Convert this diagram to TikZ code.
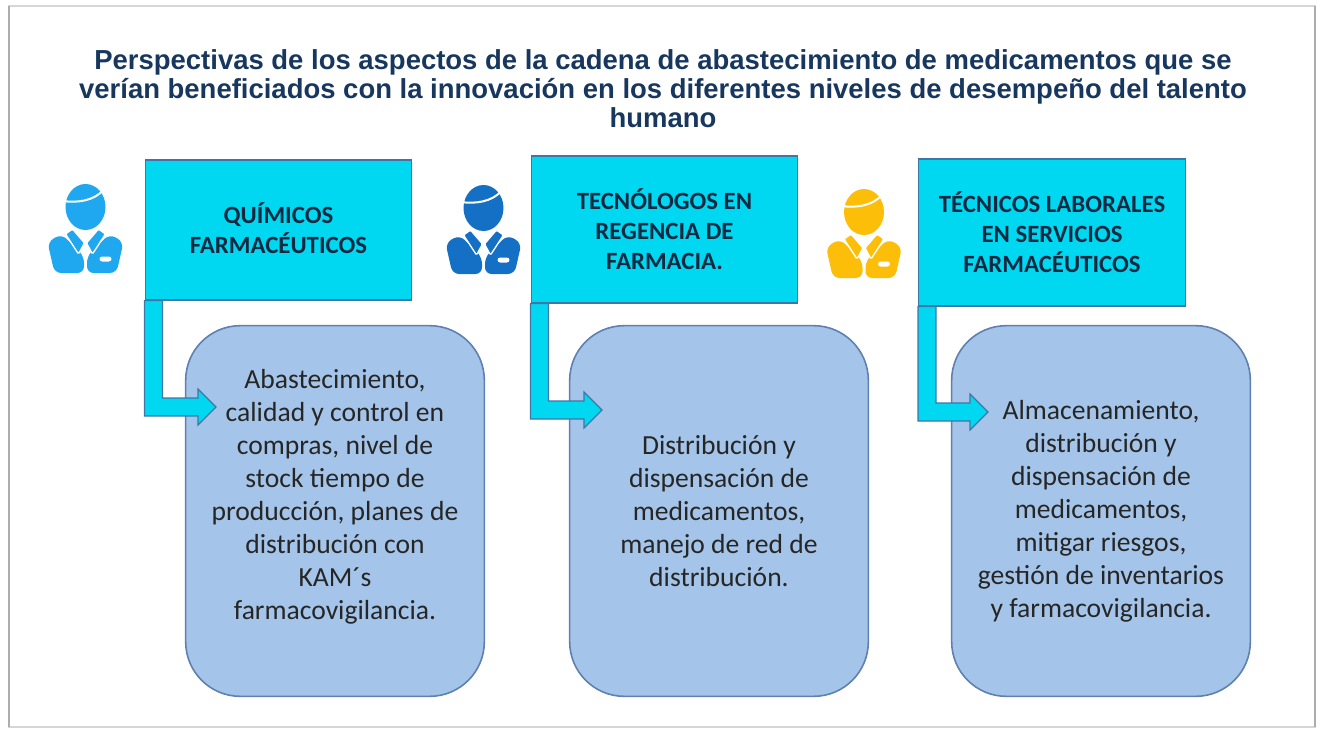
\documentclass[tikz,border=0pt]{standalone}
\usepackage{fontspec}
\setmainfont{Carlito}
\newfontfamily\titlefont{Liberation Sans}
\usetikzlibrary{positioning}
\definecolor{headfill}{HTML}{00D8F2}
\definecolor{headline}{HTML}{3F76A6}
\definecolor{bodyfill}{HTML}{A4C5E9}
\definecolor{bodyline}{HTML}{5F80B0}
\definecolor{titleblue}{HTML}{17375E}
\definecolor{headtext}{HTML}{0E2A42}
\definecolor{iconsky}{HTML}{1FA8F0}
\definecolor{iconblue}{HTML}{1470C4}
\definecolor{iconyellow}{HTML}{FDBE0A}
\newcommand{\person}[3]{
  \begin{scope}[shift={(#1, #2)}]
    \fill[#3] (0, 23) ellipse (20 and 23);
    \draw[white, line width=1.5pt] (-23, 17) .. controls (-8, 19) and (8, 17) .. (18, 6);
    \fill[#3, rounded corners=5] (-38, 58) -- (-24, 50) -- (-1.5, 72) -- (-1.5, 89) -- (-31, 89) -- cycle;
    \fill[#3, rounded corners=5] (38, 58) -- (24, 50) -- (1.5, 72) -- (1.5, 89) -- (31, 89) -- cycle;
    \draw[white, line width=1pt, fill=#3, rounded corners=1] (-20, 50) -- (-13, 45) -- (-1, 59) -- (-7, 70) -- cycle;
    \draw[white, line width=1pt, fill=#3, rounded corners=1] (20, 50) -- (13, 45) -- (1, 59) -- (7, 70) -- cycle;
    \fill[white, rounded corners=2] (14, 72.5) rectangle (26, 77.5);
  \end{scope}
}
\newcommand{\bentflow}[2]{
  \draw[flow] (#1.south west) -- ([shift={(0, 9)}]#1.south west |- #2) -- ([shift={(-18, 9)}]#2)
    -- ([shift={(-18, 18)}]#2) -- (#2) -- ([shift={(-18, -18)}]#2) -- ([shift={(-18, -9)}]#2)
    -- ([shift={(18, -9)}]#1.south west |- #2) -- ([shift={(18, 0)}]#1.south west) -- cycle;
}

\begin{document}
\begin{tikzpicture}[
    x=0.75pt, y=-0.75pt,
    headbox/.style={draw=headline, line width=0.9pt, fill=headfill, minimum width=200pt, text=headtext, align=center, inner sep=0, font=\fontsize{18.6}{22.5}\selectfont\bfseries},
    bodybox/.style={draw=bodyline, line width=1.2pt, fill=bodyfill, rounded corners=41pt, minimum width=224pt, minimum height=278pt, text=black!85, align=center, inner sep=0, font=\fontsize{20.7}{24.75}\selectfont},
    flow/.style={draw=headline, line width=0.9pt, fill=headfill, line join=miter},
    frame/.style={draw=black!16, line width=1.6pt},
  ]
  \useasboundingbox (0, 0) rectangle (1320, 729);
  \draw[frame] (9, 6) rectangle (1315, 727);
  \draw[frame, draw=black!32] (9, 6) -- (9, 727) (1315, 6) -- (1315, 727);

  \node[align=center, text=titleblue, font=\titlefont\fontsize{20.6}{21.75}\selectfont\bfseries] (title) at (663, 89) {Perspectivas de los aspectos de la cadena de abastecimiento de medicamentos que se\\ verían beneficiados con la innovación en los diferentes niveles de desempeño del talento\\ humano};

  \node[bodybox] (quim) at (335, 511) {Abastecimiento,\\ calidad y control en\\ compras, nivel de\\ stock tiempo de\\ producción, planes de\\ distribución con\\ KAM´s\\ farmacovigilancia.\\ ~};
  \node[bodybox, right=62.8pt of quim] (tecn) {Distribución y\\ dispensación de\\ medicamentos,\\ manejo de red de\\ distribución.};
  \node[bodybox, right=61.3pt of tecn] (labo) {Almacenamiento,\\ distribución y\\ dispensación de\\ medicamentos,\\ mitigar riesgos,\\ gestión de inventarios\\ y farmacovigilancia.};

  \node[headbox, minimum height=105pt] (hquim) at (278.5, 230) {QUÍMICOS\\ FARMACÉUTICOS\\[-19.5pt] ~};
  \node[headbox, minimum height=110.25pt] (htecn) at (664.5, 229.5) {TECNÓLOGOS EN\\ REGENCIA DE\\ FARMACIA.};
  \node[headbox, minimum height=110.25pt] (hlabo) at (1052, 232.5) {TÉCNICOS LABORALES\\ EN SERVICIOS\\ FARMACÉUTICOS};

  \coordinate (tquim) at (216, 407);
  \coordinate (ttecn) at (602, 410);
  \coordinate (tlabo) at (988, 412);
  \bentflow{hquim}{tquim}
  \bentflow{htecn}{ttecn}
  \bentflow{hlabo}{tlabo}

  \person{85.5}{184}{iconsky}
  \person{483.5}{185}{iconblue}
  \person{864}{189}{iconyellow}
\end{tikzpicture}
\end{document}
